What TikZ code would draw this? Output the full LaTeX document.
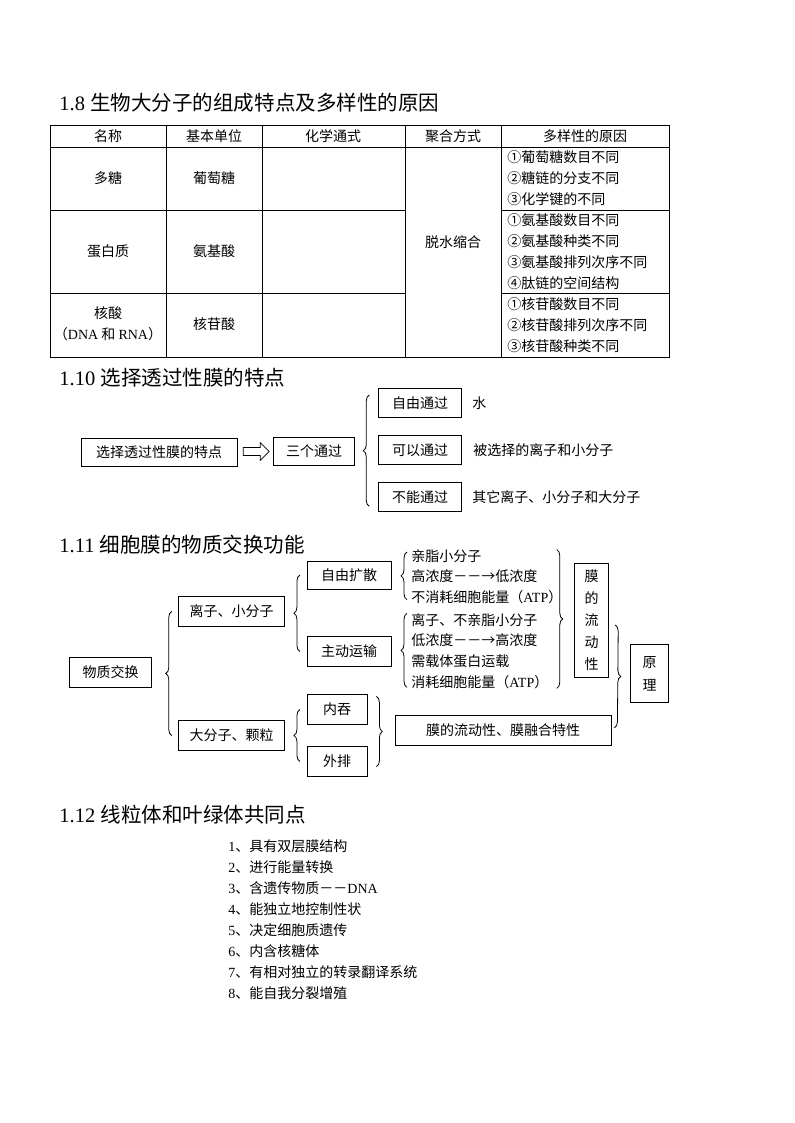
\documentclass[tikz,border=0pt]{standalone}
\usepackage{fontspec}
\setmainfont{Liberation Serif}
\newfontfamily\cjk{Noto Sans CJK SC}
\usetikzlibrary{calc}
\usetikzlibrary{decorations.pathreplacing}

\tikzset{
  box/.style={draw, inner sep=0pt, align=center, font=\cjk\fontsize{10.5}{15.75}\selectfont},
  cell/.style={inner sep=0pt, align=center, font=\cjk\fontsize{10.5}{15.75}\selectfont},
  txt/.style={anchor=west, inner sep=0pt, font=\cjk\fontsize{10.5}{15.75}\selectfont},
  ttl/.style={anchor=west, inner sep=0pt, font=\fontsize{15.4}{17}\selectfont},
  lbrace/.style={decorate, decoration={brace, amplitude=4.5pt}},
}

\begin{document}
\begin{tikzpicture}[x=0.75pt, y=-0.75pt, line width=0.6pt]
  \useasboundingbox (0,0) rectangle (794,1123);

  % 1.8 table
  \node[ttl] (t18) at (59,103) {1.8 {\cjk 生物大分子的组成特点及多样性的原因}};
  \draw (50,125) rectangle (669,357);
  \draw (50,147) -- (669,147);
  \foreach \cx in {166,262,405,501}
    \draw (\cx,125) -- (\cx,357);
  \foreach \cy in {210,293} {
    \draw (50,\cy) -- (405,\cy);
    \draw (501,\cy) -- (669,\cy);
  }
  \node[cell] (hmc) at (108,136) {名称};
  \node[cell] (hdw) at (214,136) {基本单位};
  \node[cell] (hts) at (333,136) {化学通式};
  \node[cell] (hjh) at (453,136) {聚合方式};
  \node[cell] (hyy) at (585,136) {多样性的原因};
  \node[cell] (dt) at (108,178) {多糖};
  \node[cell] (ptt) at (214,178) {葡萄糖};
  \node[cell] (dbz) at (108,251) {蛋白质};
  \node[cell] (ajs) at (214,251) {氨基酸};
  \node[cell] (hs) at (108,324) {核酸\\（\textrm{DNA} 和 \textrm{RNA}）};
  \node[cell] (hgs) at (214,324) {核苷酸};
  \node[cell] (tssh) at (453,242) {脱水缩合};
  \node[txt] (y1) at (507,157) {①葡萄糖数目不同};
  \node[txt] (y2) at (507,178) {②糖链的分支不同};
  \node[txt] (y3) at (507,199) {③化学键的不同};
  \node[txt] (y4) at (507,220) {①氨基酸数目不同};
  \node[txt] (y5) at (507,241) {②氨基酸种类不同};
  \node[txt] (y6) at (507,262) {③氨基酸排列次序不同};
  \node[txt] (y7) at (507,283) {④肽链的空间结构};
  \node[txt] (y8) at (507,304) {①核苷酸数目不同};
  \node[txt] (y9) at (507,325) {②核苷酸排列次序不同};
  \node[txt] (y10) at (507,346) {③核苷酸种类不同};

  % 1.10
  \node[ttl] (t110) at (59,378) {1.10 {\cjk 选择透过性膜的特点}};
  \node[box, minimum width=117pt, minimum height=21pt] (xz) at (159,452) {选择透过性膜的特点};
  \node[box, minimum width=61pt, minimum height=21pt] (sg) at (314,451) {三个通过};
  \coordinate (jt) at ($(xz.east)!0.5!(sg.west)$);
  \draw ($(jt)+(-12,-4)$) -- ++(17,0) -- ++(0,-5) -- ++(9,9) -- ++(-9,9) -- ++(0,-5) -- ++(-17,0) -- cycle;
  \node[box, minimum width=62pt, minimum height=22pt] (zytg) at (420,403) {自由通过};
  \node[box, minimum width=62pt, minimum height=22pt] (kytg) at (420,450) {可以通过};
  \node[box, minimum width=62pt, minimum height=22pt] (bntg) at (420,497) {不能通过};
  \node[txt] (s) at (472,403) {水};
  \node[txt] (lz) at (473,450) {被选择的离子和小分子};
  \node[txt] (qt) at (472,497) {其它离子、小分子和大分子};
  \draw[lbrace] ([xshift=-6.75pt,yshift=-7pt]bntg.west) -- ([xshift=-6.75pt,yshift=6pt]zytg.west);

  % 1.11
  \node[ttl] (t111) at (59,545) {1.11 {\cjk 细胞膜的物质交换功能}};
  \node[box, minimum width=62pt, minimum height=23pt] (wzjh) at (110.5,672.5) {物质交换};
  \node[box, minimum width=80pt, minimum height=23pt] (lzx) at (231.5,611.5) {离子、小分子};
  \node[box, minimum width=80pt, minimum height=23pt] (dfz) at (231.5,735.5) {大分子、颗粒};
  \node[box, minimum width=63pt, minimum height=21pt] (zyks) at (349,575) {自由扩散};
  \node[box, minimum width=63pt, minimum height=22pt] (zdys) at (349,651.5) {主动运输};
  \node[box, minimum width=45pt, minimum height=23pt] (nt) at (337,709.5) {内吞};
  \node[box, minimum width=45pt, minimum height=23pt] (wp) at (337,761.5) {外排};
  \node[txt] (a1) at (411,556) {亲脂小分子};
  \node[txt] (a2) at (411,576) {高浓度－－→低浓度};
  \node[txt] (a3) at (411,597) {不消耗细胞能量（\textrm{ATP}）};
  \node[txt] (b1) at (411,620) {离子、不亲脂小分子};
  \node[txt] (b2) at (411,640) {低浓度－－→高浓度};
  \node[txt] (b3) at (411,661) {需载体蛋白运载};
  \node[txt] (b4) at (411,682) {消耗细胞能量（\textrm{ATP}）};
  \node[box, minimum width=26pt, minimum height=85.5pt,
        font=\cjk\fontsize{10.5}{16.5}\selectfont] (lds) at (591.5,620) {膜\\的\\流\\动\\性};
  \node[box, minimum width=162pt, minimum height=23pt] (rh) at (503,730.5) {膜的流动性、膜融合特性};
  \node[box, minimum width=28pt, minimum height=43pt,
        font=\cjk\fontsize{10.5}{17.25}\selectfont] (yl) at (649.5,673.5) {原\\理};

  \draw[lbrace] ([xshift=-4.5pt]dfz.west) -- ([xshift=-4.5pt]lzx.west);
  \draw[lbrace] ([xshift=-5pt]zdys.west) -- ([xshift=-5pt]zyks.west);
  \draw[lbrace] ([xshift=-5pt]wp.west) -- ([xshift=-5pt]nt.west);
  \draw[lbrace] ([xshift=-3pt,yshift=-2pt]a3.west) -- ([xshift=-3pt,yshift=3pt]a1.west);
  \draw[lbrace] ([xshift=-3pt,yshift=-4pt]b4.west) -- ([xshift=-3pt,yshift=5pt]b1.west);
  \draw[lbrace] ([xshift=-12.75pt,yshift=9.75pt]lds.north west) -- ([xshift=-12.75pt,yshift=-8.25pt]lds.south west);
  \draw[lbrace] ([xshift=6.75pt,yshift=-2pt]nt.north east) -- ([xshift=6.75pt,yshift=8pt]wp.south east);
  \draw[lbrace] ([xshift=4.5pt,yshift=-3.75pt]lds.east) -- ([xshift=2.25pt,yshift=2pt]rh.east);

  % 1.12
  \node[ttl] (t112) at (59,815) {1.12 {\cjk 线粒体和叶绿体共同点}};
  \foreach \i/\t in {1/具有双层膜结构, 2/进行能量转换, 3/含遗传物质－－\textrm{DNA},
                     4/能独立地控制性状, 5/决定细胞质遗传, 6/内含核糖体,
                     7/有相对独立的转录翻译系统, 8/能自我分裂增殖}
    \node[txt] (g\i) at (228,825+21*\i) {\textrm{\i}、\t};
\end{tikzpicture}
\end{document}
